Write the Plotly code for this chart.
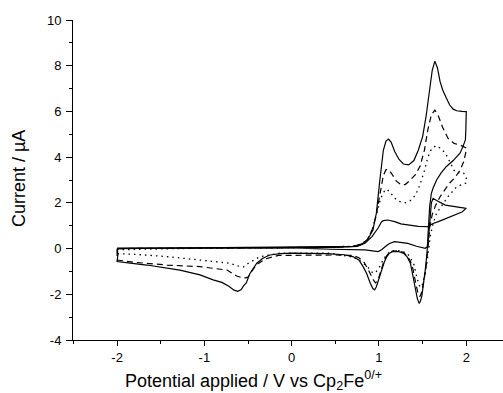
import plotly.graph_objects as go

# ---- data (potential in V vs Cp2Fe0/+, current in µA) ----
solid_x = [-2.0, -1.5, -1.0, -0.5, 0.0, 0.5, 0.7, 0.8, 0.87, 0.93, 0.97, 1.01, 1.05, 1.08, 1.11, 1.14,
           1.18, 1.23, 1.28, 1.34, 1.40, 1.45, 1.50, 1.54, 1.58, 1.61, 1.64, 1.67, 1.70, 1.73, 1.77,
           1.81, 1.85, 1.89, 1.95, 2.0,
           1.995, 1.99, 1.96, 1.93, 1.85, 1.77, 1.71, 1.66, 1.62, 1.60, 1.58, 1.57, 1.55, 1.53, 1.51,
           1.49, 1.47, 1.46, 1.44, 1.41, 1.38, 1.36, 1.32, 1.28, 1.22, 1.16, 1.12, 1.09, 1.06, 1.03,
           1.00, 0.97, 0.95, 0.93, 0.90, 0.86, 0.82, 0.77, 0.70, 0.60, 0.40, 0.20, 0.0, -0.13, -0.25,
           -0.33, -0.40, -0.48, -0.52, -0.55, -0.58, -0.62, -0.66, -0.72, -0.80, -0.90, -1.05, -1.28,
           -1.50, -1.66, -1.85, -2.0, -1.99, -2.0]
solid_y = [0.0, 0.02, 0.03, 0.04, 0.05, 0.07, 0.1, 0.18, 0.4, 0.8, 1.55, 3.0, 4.3, 4.7, 4.79, 4.65,
           4.25, 3.9, 3.7, 3.66, 3.85, 4.3, 4.9, 5.8, 6.94, 7.8, 8.2, 7.9, 7.3, 6.94, 6.6,
           6.28, 6.1, 6.03, 6.0, 5.99,
           5.2, 4.75, 4.45, 4.18, 3.85, 3.58, 3.3, 3.0, 2.65, 2.42, 1.83, 1.1, -0.2, -0.94, -1.5,
           -2.1, -2.35, -2.39, -2.2, -1.67, -1.0, -0.64, -0.35, -0.2, -0.13, -0.13, -0.2, -0.35, -0.6, -0.94,
           -1.35, -1.67, -1.81, -1.75, -1.52, -1.1, -0.8, -0.5, -0.35, -0.27, -0.22, -0.2, -0.2, -0.22, -0.28,
           -0.42, -0.64, -1.1, -1.5, -1.62, -1.8, -1.87, -1.82, -1.65, -1.48, -1.37, -1.15, -0.94,
           -0.8, -0.72, -0.64, -0.57, -0.25, 0.0]

dash_x = [-2.0, -1.0, 0.0, 0.5, 0.7, 0.8, 0.87, 0.93, 0.97, 1.01, 1.05, 1.08, 1.11, 1.15, 1.20, 1.25,
          1.30, 1.36, 1.42, 1.47, 1.52, 1.56, 1.60, 1.64, 1.68, 1.73, 1.79, 1.86, 1.93, 2.0,
          2.0, 1.97, 1.93, 1.87, 1.81, 1.75, 1.70, 1.65, 1.61, 1.58, 1.56, 1.54, 1.51, 1.49, 1.47,
          1.45, 1.42, 1.39, 1.36, 1.32, 1.27, 1.20, 1.15, 1.10, 1.06, 1.02, 0.99, 0.96, 0.93, 0.88,
          0.83, 0.77, 0.70, 0.50, 0.06, -0.15, -0.30, -0.40, -0.45, -0.50, -0.55, -0.63, -0.74, -0.90,
          -1.05, -1.43, -1.80, -2.0, -2.0]
dash_y = [0.0, 0.02, 0.04, 0.06, 0.1, 0.2, 0.4, 0.9, 1.5, 2.4, 3.2, 3.45, 3.45, 3.25, 2.95, 2.8,
          2.8, 3.0, 3.25, 3.6, 4.3, 5.2, 5.85, 6.06, 5.8, 5.3, 4.83, 4.6, 4.53, 4.4,
          4.3, 3.8, 3.44, 3.1, 2.87, 2.55, 2.27, 1.9, 1.5, 0.9, 0.0, -0.8, -1.5, -1.9, -2.1,
          -2.0, -1.5, -0.9, -0.55, -0.3, -0.15, -0.1, -0.12, -0.25, -0.5, -0.95, -1.37, -1.5, -1.35, -0.94,
          -0.6, -0.4, -0.3, -0.28, -0.28, -0.3, -0.45, -0.7, -0.95, -1.25, -1.3, -1.2, -0.94, -0.85,
          -0.79, -0.72, -0.6, -0.5, 0.0]

dot_x = [-2.0, -1.5, -1.0, 0.0, 0.5, 0.7, 0.8, 0.87, 0.93, 0.98, 1.02, 1.06, 1.09, 1.13, 1.18, 1.24,
         1.30, 1.36, 1.42, 1.47, 1.52, 1.56, 1.60, 1.65, 1.70, 1.76, 1.82, 1.87, 1.93, 1.97, 2.0,
         2.0, 1.95, 1.89, 1.79, 1.72, 1.66, 1.62, 1.59, 1.57, 1.55, 1.52, 1.50, 1.48, 1.46, 1.43,
         1.40, 1.36, 1.32, 1.25, 1.18, 1.13, 1.08, 1.04, 1.00, 0.96, 0.93, 0.88, 0.82, 0.75, 0.67,
         0.44, -0.13, -0.36, -0.50, -0.55, -0.59, -0.71, -1.05, -1.43, -1.80, -2.0, -2.0]
dot_y = [-0.05, 0.0, 0.02, 0.04, 0.06, 0.1, 0.2, 0.4, 0.9, 1.6, 2.2, 2.5, 2.6, 2.45, 2.2, 2.05,
         2.0, 2.1, 2.35, 2.8, 3.4, 4.0, 4.35, 4.5, 4.4, 4.18, 3.7, 3.35, 3.3, 3.3, 3.1,
         2.87, 2.8, 2.7, 2.27, 1.9, 1.55, 1.1, 0.6, 0.0, -0.6, -1.2, -1.55, -1.7, -1.6, -1.2,
         -0.7, -0.4, -0.2, -0.1, -0.08, -0.12, -0.3, -0.55, -0.85, -1.05, -1.07, -0.85, -0.63, -0.45, -0.35,
         -0.2, -0.2, -0.35, -0.65, -0.8, -0.79, -0.64, -0.5, -0.35, -0.25, -0.22, -0.05]

small_x = [-2.0, -1.0, 0.0, 0.44, 0.70, 0.84, 0.99, 1.03, 1.07, 1.12, 1.18, 1.25, 1.33, 1.43, 1.50,
           1.53, 1.56, 1.58, 1.60, 1.62, 1.66, 1.76, 1.90, 2.0,
           1.95, 1.83, 1.73, 1.68, 1.62, 1.56, 1.45, 1.33, 1.25, 1.18, 1.10, 1.05, 1.03, 0.99, 0.92,
           0.84, 0.75, 0.50, 0.0, -1.0, -2.0]
small_y = [0.02, 0.03, 0.03, -0.03, -0.05, -0.06, -0.13, -0.05, 0.08, 0.22, 0.3, 0.28, 0.23, 0.1, 0.02,
           0.01, 0.1, 1.0, 2.0, 2.2, 2.1, 1.9, 1.82, 1.76,
           1.6, 1.4, 1.25, 1.18, 1.1, 0.96, 0.97, 1.03, 1.08, 1.18, 1.25, 1.22, 1.18, 0.9, 0.52,
           0.23, 0.1, 0.05, 0.04, 0.03, 0.02]

y_ticks = [-4, -2, 0, 2, 4, 6, 8, 10]
y_ticktext = ["-4", "-2", "0", "2", "4", "6", "8", "10"]
x_ticks = [-2, -1, 0, 1, 2]
x_ticktext = ["-2", "-1", "0", "1", "2"]

FONT = "Liberation Sans, Arial, sans-serif"

fig = go.Figure()
fig.add_trace(go.Scatter(x=dot_x, y=dot_y, mode="lines",
                         line=dict(color="black", width=1.3, dash="1.5px,4px")))
fig.add_trace(go.Scatter(x=dash_x, y=dash_y, mode="lines",
                         line=dict(color="black", width=1.2, dash="6px,4px")))
fig.add_trace(go.Scatter(x=small_x, y=small_y, mode="lines",
                         line=dict(color="black", width=1.2)))
fig.add_trace(go.Scatter(x=solid_x, y=solid_y, mode="lines",
                         line=dict(color="black", width=1.2)))

fig.update_layout(
    width=503, height=393,
    margin=dict(l=73, r=0, t=20, b=53),
    paper_bgcolor="white", plot_bgcolor="white",
    showlegend=False,
    font=dict(family=FONT, size=13, color="black"),
    xaxis=dict(range=[-2.505, 2.4206], tickvals=x_ticks, ticktext=x_ticktext,
               ticks="outside", ticklen=5,
               tickwidth=1, tickcolor="black", showline=True, linecolor="black", linewidth=1,
               showgrid=False, zeroline=False, mirror=False,
               minor=dict(dtick=0.5, ticks="outside", ticklen=3, tickcolor="black", showgrid=False),
               tickfont=dict(family=FONT, size=13, color="black")),
    yaxis=dict(range=[-4, 10], tickvals=y_ticks, ticktext=y_ticktext,
               ticks="outside", ticklen=6,
               tickwidth=1, tickcolor="black", showline=True, linecolor="black", linewidth=1,
               showgrid=False, zeroline=False, mirror=False, ticklabelstandoff=2,
               minor=dict(dtick=1, ticks="outside", ticklen=3, tickcolor="black", showgrid=False),
               tickfont=dict(family=FONT, size=13, color="black")),
    annotations=[
        dict(text="Current / µA", xref="paper", yref="paper", x=-0.1256, y=0.506,
             xanchor="center", yanchor="middle", textangle=-90, showarrow=False,
             font=dict(family=FONT, size=18, color="black")),
        dict(text="Potential applied / V vs Cp<sub>2</sub>Fe<sup>0/+</sup>", xref="paper", yref="paper",
             x=0.1163, y=-0.125, xanchor="left", yanchor="middle", showarrow=False,
             font=dict(family=FONT, size=18, color="black")),
    ],
)

fig.write_html("out.html")
